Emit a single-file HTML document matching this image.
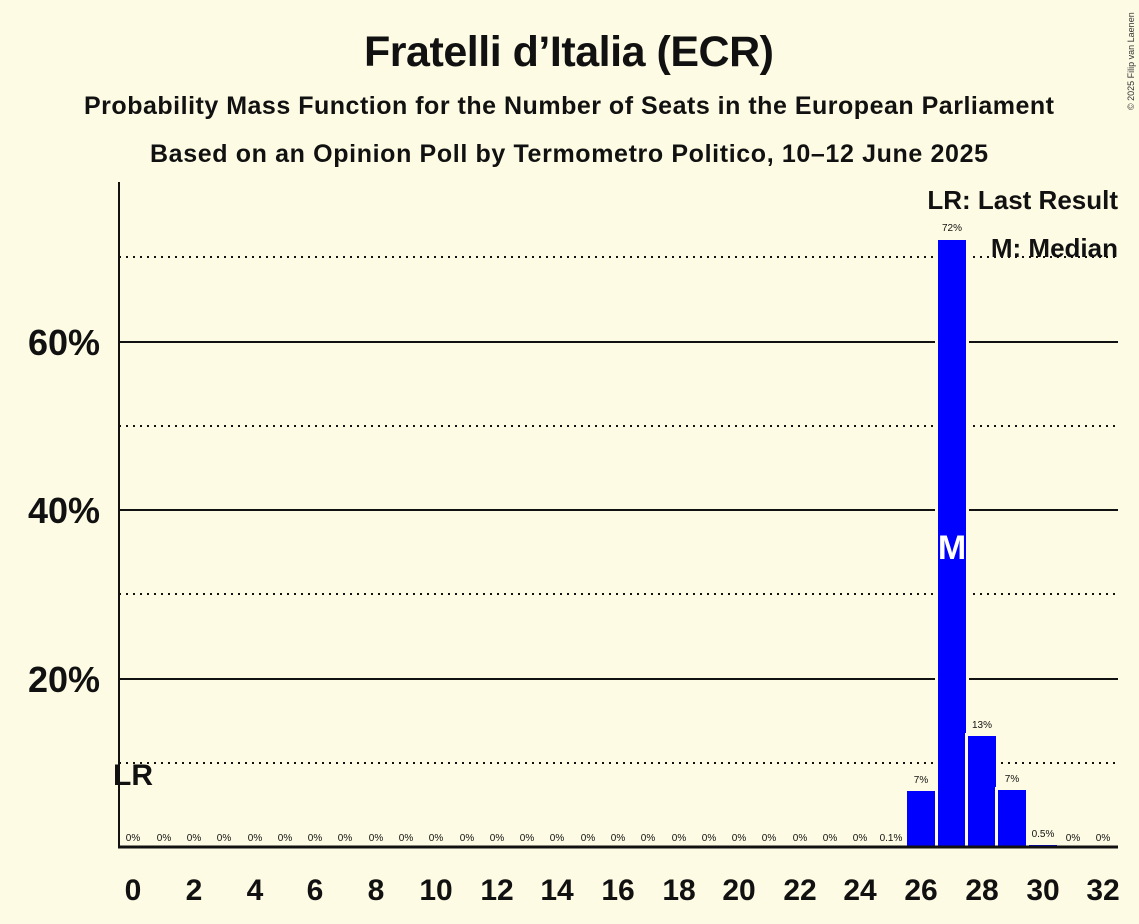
<!DOCTYPE html>
<html><head><meta charset="utf-8"><style>
body{margin:0;background:#fdfbe3;}
svg{display:block;font-family:"Liberation Sans",sans-serif;}
</style></head><body>
<svg width="1139" height="924" viewBox="0 0 1139 924" xmlns="http://www.w3.org/2000/svg">
<rect width="1139" height="924" fill="#fdfbe3"/>
<text x="569" y="66" text-anchor="middle" font-size="43" font-weight="bold" fill="#111" textLength="410">Fratelli d’Italia (ECR)</text>
<text x="569" y="114" text-anchor="middle" font-size="25" font-weight="bold" fill="#111" textLength="970">Probability Mass Function for the Number of Seats in the European Parliament</text>
<text x="569" y="162" text-anchor="middle" font-size="25" font-weight="bold" fill="#111" textLength="838">Based on an Opinion Poll by Termometro Politico, 10–12 June 2025</text>
<text x="1134" y="110" font-size="9" fill="#333" transform="rotate(-90 1134 110)">© 2025 Filip van Laenen</text>
<g stroke="#111" stroke-width="2" stroke-dasharray="2,5">
<line x1="119" y1="763" x2="1118" y2="763"/><line x1="119" y1="594" x2="1118" y2="594"/>
<line x1="119" y1="426" x2="1118" y2="426"/><line x1="119" y1="257" x2="1118" y2="257"/>
</g>
<g stroke="#111" stroke-width="2">
<line x1="119" y1="679" x2="1118" y2="679"/><line x1="119" y1="510" x2="1118" y2="510"/><line x1="119" y1="342" x2="1118" y2="342"/>
</g>
<g fill="#111" font-weight="bold" font-size="36" text-anchor="end">
<text x="100" y="692">20%</text><text x="100" y="523">40%</text><text x="100" y="355">60%</text>
</g>
<g fill="#0000ff" stroke="#fdfbe3" stroke-width="3">
<rect x="905.5" y="789.5" width="31" height="58"/>
<rect x="936.5" y="238.5" width="31" height="609"/>
<rect x="966.5" y="734.5" width="31" height="113"/>
<rect x="996.5" y="788.5" width="31" height="59"/>
</g>
<rect x="1029" y="845" width="28" height="2" fill="#0000ff"/>
<line x1="119" y1="182" x2="119" y2="848" stroke="#111" stroke-width="2"/>
<line x1="118" y1="847" x2="1118" y2="847" stroke="#111" stroke-width="3"/>
<g font-size="10" fill="#111" text-anchor="middle">
<text x="133" y="841">0%</text><text x="164" y="841">0%</text><text x="194" y="841">0%</text><text x="224" y="841">0%</text><text x="255" y="841">0%</text><text x="285" y="841">0%</text><text x="315" y="841">0%</text><text x="345" y="841">0%</text><text x="376" y="841">0%</text><text x="406" y="841">0%</text><text x="436" y="841">0%</text><text x="467" y="841">0%</text><text x="497" y="841">0%</text><text x="527" y="841">0%</text><text x="557" y="841">0%</text><text x="588" y="841">0%</text><text x="618" y="841">0%</text><text x="648" y="841">0%</text><text x="679" y="841">0%</text><text x="709" y="841">0%</text><text x="739" y="841">0%</text><text x="769" y="841">0%</text><text x="800" y="841">0%</text><text x="830" y="841">0%</text><text x="860" y="841">0%</text><text x="891" y="841">0.1%</text>
<text x="921" y="783">7%</text><text x="952" y="231">72%</text><text x="982" y="728">13%</text><text x="1012" y="782">7%</text><text x="1043" y="837">0.5%</text><text x="1073" y="841">0%</text><text x="1103" y="841">0%</text>
</g>
<text x="952" y="559" text-anchor="middle" font-size="34" font-weight="bold" fill="#fff">M</text>
<text x="133" y="785" text-anchor="middle" font-size="30" font-weight="bold" fill="#111">LR</text>
<g font-size="30" font-weight="bold" fill="#111" text-anchor="middle">
<text x="133" y="900">0</text><text x="194" y="900">2</text><text x="255" y="900">4</text><text x="315" y="900">6</text><text x="376" y="900">8</text><text x="436" y="900">10</text><text x="497" y="900">12</text><text x="557" y="900">14</text><text x="618" y="900">16</text><text x="679" y="900">18</text><text x="739" y="900">20</text><text x="800" y="900">22</text><text x="860" y="900">24</text><text x="921" y="900">26</text><text x="982" y="900">28</text><text x="1043" y="900">30</text><text x="1103" y="900">32</text>
</g>
<g font-size="26" font-weight="bold" fill="#111" text-anchor="end">
<text x="1118" y="209">LR: Last Result</text><text x="1118" y="257">M: Median</text>
</g>
</svg>
</body></html>
